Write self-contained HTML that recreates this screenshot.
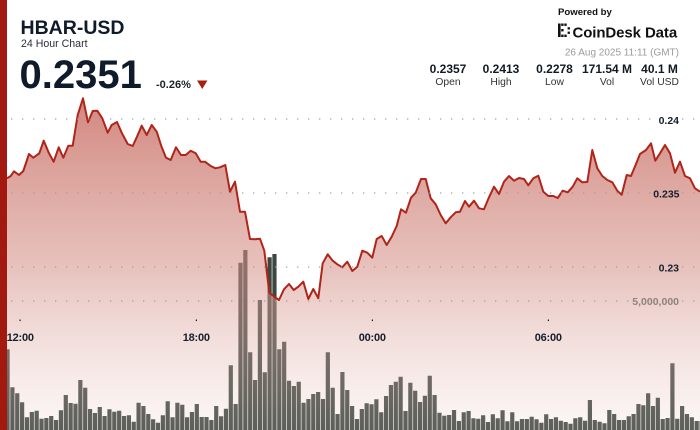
<!DOCTYPE html>
<html><head><meta charset="utf-8"><style>
html,body{margin:0;padding:0;background:#fff;}
body{width:700px;height:430px;overflow:hidden;position:relative;font-family:"Liberation Sans",sans-serif;}
svg{position:absolute;left:0;top:0;}
</style></head><body>
<svg width="700" height="430" viewBox="0 0 700 430" xmlns="http://www.w3.org/2000/svg">
<defs>
<linearGradient id="g" gradientUnits="userSpaceOnUse" x1="0" y1="98" x2="0" y2="430">
<stop offset="0" stop-color="rgb(198,105,95)" stop-opacity="0.8"/>
<stop offset="0.52" stop-color="rgb(213,145,136)" stop-opacity="0.55"/>
<stop offset="1" stop-color="rgb(235,205,200)" stop-opacity="0.18"/>
</linearGradient>
</defs>
<path fill="#3d4741" d="M5.45 349.3h4.2V430h-4.2z M10.30 387.3h4.2V430h-4.2z M15.16 393.3h4.2V430h-4.2z M20.01 402.3h4.2V430h-4.2z M24.86 417.3h4.2V430h-4.2z M29.72 412h4.2V430h-4.2z M34.57 410.7h4.2V430h-4.2z M39.42 418.7h4.2V430h-4.2z M44.27 418h4.2V430h-4.2z M49.13 416h4.2V430h-4.2z M53.98 420h4.2V430h-4.2z M58.83 410.3h4.2V430h-4.2z M63.69 395h4.2V430h-4.2z M68.54 403h4.2V430h-4.2z M73.39 403.7h4.2V430h-4.2z M78.25 380h4.2V430h-4.2z M83.10 387.7h4.2V430h-4.2z M87.95 409h4.2V430h-4.2z M92.80 413h4.2V430h-4.2z M97.66 407h4.2V430h-4.2z M102.51 416h4.2V430h-4.2z M107.36 409.3h4.2V430h-4.2z M112.22 411.7h4.2V430h-4.2z M117.07 410.7h4.2V430h-4.2z M121.92 416h4.2V430h-4.2z M126.78 415.3h4.2V430h-4.2z M131.63 421.7h4.2V430h-4.2z M136.48 402.7h4.2V430h-4.2z M141.33 406h4.2V430h-4.2z M146.19 414h4.2V430h-4.2z M151.04 419.3h4.2V430h-4.2z M155.89 422.7h4.2V430h-4.2z M160.75 415.3h4.2V430h-4.2z M165.60 401.3h4.2V430h-4.2z M170.45 417.3h4.2V430h-4.2z M175.31 402.7h4.2V430h-4.2z M180.16 404.7h4.2V430h-4.2z M185.01 417.3h4.2V430h-4.2z M189.86 412h4.2V430h-4.2z M194.72 404h4.2V430h-4.2z M199.57 417h4.2V430h-4.2z M204.42 417h4.2V430h-4.2z M209.28 420h4.2V430h-4.2z M214.13 406h4.2V430h-4.2z M218.98 416.3h4.2V430h-4.2z M223.84 408.7h4.2V430h-4.2z M228.69 365.3h4.2V430h-4.2z M233.54 404h4.2V430h-4.2z M238.39 262.7h4.2V430h-4.2z M243.25 250h4.2V430h-4.2z M248.10 352.3h4.2V430h-4.2z M252.95 380h4.2V430h-4.2z M257.81 300h4.2V430h-4.2z M262.66 372.3h4.2V430h-4.2z M267.51 257.3h4.2V430h-4.2z M272.37 254h4.2V430h-4.2z M277.22 349.3h4.2V430h-4.2z M282.07 341.7h4.2V430h-4.2z M286.92 380.7h4.2V430h-4.2z M291.78 386h4.2V430h-4.2z M296.63 381.7h4.2V430h-4.2z M301.48 402.7h4.2V430h-4.2z M306.34 399h4.2V430h-4.2z M311.19 394h4.2V430h-4.2z M316.04 392h4.2V430h-4.2z M320.90 399h4.2V430h-4.2z M325.75 352.3h4.2V430h-4.2z M330.60 387.7h4.2V430h-4.2z M335.45 414h4.2V430h-4.2z M340.31 372h4.2V430h-4.2z M345.16 390h4.2V430h-4.2z M350.01 406h4.2V430h-4.2z M354.87 419h4.2V430h-4.2z M359.72 409h4.2V430h-4.2z M364.57 403.3h4.2V430h-4.2z M369.43 404.3h4.2V430h-4.2z M374.28 399.3h4.2V430h-4.2z M379.13 412.3h4.2V430h-4.2z M383.98 396h4.2V430h-4.2z M388.84 385h4.2V430h-4.2z M393.69 381.7h4.2V430h-4.2z M398.54 376.7h4.2V430h-4.2z M403.40 411h4.2V430h-4.2z M408.25 382.7h4.2V430h-4.2z M413.10 390.7h4.2V430h-4.2z M417.96 402h4.2V430h-4.2z M422.81 395.7h4.2V430h-4.2z M427.66 375.7h4.2V430h-4.2z M432.51 395h4.2V430h-4.2z M437.37 412.7h4.2V430h-4.2z M442.22 415.7h4.2V430h-4.2z M447.07 415h4.2V430h-4.2z M451.93 410h4.2V430h-4.2z M456.78 421h4.2V430h-4.2z M461.63 412.3h4.2V430h-4.2z M466.49 411h4.2V430h-4.2z M471.34 418.3h4.2V430h-4.2z M476.19 418.7h4.2V430h-4.2z M481.04 415.3h4.2V430h-4.2z M485.90 422h4.2V430h-4.2z M490.75 414.3h4.2V430h-4.2z M495.60 418.3h4.2V430h-4.2z M500.46 410.3h4.2V430h-4.2z M505.31 421.3h4.2V430h-4.2z M510.16 412.3h4.2V430h-4.2z M515.02 421.3h4.2V430h-4.2z M519.87 419h4.2V430h-4.2z M524.72 419h4.2V430h-4.2z M529.57 416.7h4.2V430h-4.2z M534.43 419.3h4.2V430h-4.2z M539.28 422.7h4.2V430h-4.2z M544.13 414.3h4.2V430h-4.2z M548.99 419h4.2V430h-4.2z M553.84 417.3h4.2V430h-4.2z M558.69 420.7h4.2V430h-4.2z M563.55 422h4.2V430h-4.2z M568.40 423.7h4.2V430h-4.2z M573.25 418.3h4.2V430h-4.2z M578.10 417.3h4.2V430h-4.2z M582.96 420.7h4.2V430h-4.2z M587.81 400h4.2V430h-4.2z M592.66 420h4.2V430h-4.2z M597.52 421.7h4.2V430h-4.2z M602.37 423.3h4.2V430h-4.2z M607.22 410h4.2V430h-4.2z M612.08 414h4.2V430h-4.2z M616.93 420h4.2V430h-4.2z M621.78 420h4.2V430h-4.2z M626.63 416.3h4.2V430h-4.2z M631.49 414h4.2V430h-4.2z M636.34 404h4.2V430h-4.2z M641.19 405.3h4.2V430h-4.2z M646.05 393.3h4.2V430h-4.2z M650.90 406h4.2V430h-4.2z M655.75 397.7h4.2V430h-4.2z M660.61 419h4.2V430h-4.2z M665.46 418h4.2V430h-4.2z M670.31 363.3h4.2V430h-4.2z M675.16 418.7h4.2V430h-4.2z M680.02 406h4.2V430h-4.2z M684.87 414h4.2V430h-4.2z M689.72 417.3h4.2V430h-4.2z M694.58 421h4.2V430h-4.2z M699.43 421h4.2V430h-4.2z"/>
<path fill="url(#g)" d="M7,430 L7,178.3 10.7,176 14,171.3 19,175 23.3,171 29,154 33.3,157.7 39.3,153.3 43.7,140.7 49,153.3 53.7,161.7 58.7,147.3 63.3,157.7 68.3,145.7 72.7,145.7 77.7,115 83,98.3 88,122.3 92.7,111 97.3,110.7 102.3,118.3 107.7,132.7 111.7,125 117,122 122,133.3 127.7,144 132.7,146 137,136.7 141.7,125.7 146.7,135 151.7,125 156.7,131.7 161.3,146 166,157.7 170.7,160 176,147.3 181,155 185.7,155 190.7,150.7 195.7,153.3 200.7,161.7 205,161.7 210.3,165.7 215.3,168.3 220,167.3 225.3,165 230,191.7 235,181.7 240,211.7 245,211.7 250,239 255,239.3 260,238.7 264.3,250.7 269.3,292.7 274.3,296.7 279,300 284,289.3 289,284 293.7,290 298.3,286.7 303.3,281.7 308.3,299 313.3,289 318.3,298.3 322.7,263.3 327.7,254.3 332.7,260.7 337.3,264.3 342.3,267.3 347.3,261.7 352.3,271 357.3,266.7 362.3,250.7 367.3,252.7 372.3,257.7 376.7,239 381.7,236 386.7,245 391.7,236.7 396.7,226 401,209.3 406,212.7 411,197.7 415.7,192.7 421,179 425.7,179 430.7,198.3 435.7,204.3 440.7,215 445.7,223.3 450.7,217.3 455.7,212.3 460,211.7 465,201 469,206.7 474,200.7 479,208.3 484,209.3 489,197.3 494,186.7 499,194 504,181.7 509,176 514,180.7 519,178 524,179 528.3,185.3 533.3,178.3 538.3,175.7 543.3,191.7 548.3,196 553.3,196 557.7,198 562.7,190.7 567.7,192.3 572.7,186.7 577.3,178.3 582.3,182.3 587.3,182 592.3,150 597.3,168.3 602.3,176 607.3,180 612.3,182.3 617.3,190.7 621.7,194.7 626.7,175 631,176 636,164 640,154 646,150 651,143.3 655.3,160.7 660,153.3 665,145 670,153.3 675,172.7 680,161.7 685,176 690,178.3 695,188.3 700,191.7 L700,430 Z"/>
<polyline fill="none" stroke="#b0251a" stroke-width="2" stroke-linejoin="round" points="7,178.3 10.7,176 14,171.3 19,175 23.3,171 29,154 33.3,157.7 39.3,153.3 43.7,140.7 49,153.3 53.7,161.7 58.7,147.3 63.3,157.7 68.3,145.7 72.7,145.7 77.7,115 83,98.3 88,122.3 92.7,111 97.3,110.7 102.3,118.3 107.7,132.7 111.7,125 117,122 122,133.3 127.7,144 132.7,146 137,136.7 141.7,125.7 146.7,135 151.7,125 156.7,131.7 161.3,146 166,157.7 170.7,160 176,147.3 181,155 185.7,155 190.7,150.7 195.7,153.3 200.7,161.7 205,161.7 210.3,165.7 215.3,168.3 220,167.3 225.3,165 230,191.7 235,181.7 240,211.7 245,211.7 250,239 255,239.3 260,238.7 264.3,250.7 269.3,292.7 274.3,296.7 279,300 284,289.3 289,284 293.7,290 298.3,286.7 303.3,281.7 308.3,299 313.3,289 318.3,298.3 322.7,263.3 327.7,254.3 332.7,260.7 337.3,264.3 342.3,267.3 347.3,261.7 352.3,271 357.3,266.7 362.3,250.7 367.3,252.7 372.3,257.7 376.7,239 381.7,236 386.7,245 391.7,236.7 396.7,226 401,209.3 406,212.7 411,197.7 415.7,192.7 421,179 425.7,179 430.7,198.3 435.7,204.3 440.7,215 445.7,223.3 450.7,217.3 455.7,212.3 460,211.7 465,201 469,206.7 474,200.7 479,208.3 484,209.3 489,197.3 494,186.7 499,194 504,181.7 509,176 514,180.7 519,178 524,179 528.3,185.3 533.3,178.3 538.3,175.7 543.3,191.7 548.3,196 553.3,196 557.7,198 562.7,190.7 567.7,192.3 572.7,186.7 577.3,178.3 582.3,182.3 587.3,182 592.3,150 597.3,168.3 602.3,176 607.3,180 612.3,182.3 617.3,190.7 621.7,194.7 626.7,175 631,176 636,164 640,154 646,150 651,143.3 655.3,160.7 660,153.3 665,145 670,153.3 675,172.7 680,161.7 685,176 690,178.3 695,188.3 700,191.7"/>
<g stroke="#9a9a9a" stroke-width="1.3" stroke-dasharray="1.2 9.8">
<line x1="11.1" y1="119" x2="651" y2="119"/>
<line x1="682.1" y1="119" x2="695" y2="119"/>
<line x1="11.1" y1="193" x2="651" y2="193"/>
<line x1="682.1" y1="193" x2="695" y2="193"/>
<line x1="11.1" y1="267" x2="651" y2="267"/>
<line x1="682.1" y1="267" x2="695" y2="267"/>
<line x1="11.1" y1="301" x2="629" y2="301"/>
<line x1="682.1" y1="301" x2="695" y2="301"/>
</g>
<g font-family="'Liberation Sans',sans-serif" font-weight="700" font-size="10.5" fill="#13202e" text-anchor="end">
<text x="679" y="124">0.24</text>
<text x="679.5" y="197.7">0.235</text>
<text x="679" y="271.3">0.23</text>
<text x="679" y="304.8" fill="#8d8280">5,000,000</text>
</g>
<g fill="#1a2230">
<rect x="19.5" y="319.5" width="1.2" height="1.6"/>
<rect x="195.8" y="319.5" width="1.2" height="1.6"/>
<rect x="371.8" y="319.5" width="1.2" height="1.6"/>
<rect x="547.8" y="319.5" width="1.2" height="1.6"/>
</g>
<g font-family="'Liberation Sans',sans-serif" font-weight="700" font-size="11" fill="#16202c" text-anchor="middle" letter-spacing="-0.2">
<text x="20.3" y="341">12:00</text>
<text x="196.3" y="341">18:00</text>
<text x="372.3" y="341">00:00</text>
<text x="548.3" y="341">06:00</text>
</g>
<rect x="0" y="0" width="7" height="430" fill="#a21a0f"/>
<g font-family="'Liberation Sans',sans-serif" fill="#0f1b2a">
<text x="20.5" y="34" font-size="19.5" font-weight="700">HBAR-USD</text>
<text x="21" y="47" font-size="10.6" fill="#2a2f36">24 Hour Chart</text>
<text x="19.5" y="88" font-size="40" font-weight="700">0.2351</text>
<text x="156" y="88" font-size="11" font-weight="700" fill="#1d2228">-0.26%</text>
</g>
<polygon points="197,80.5 207.5,80.5 202.25,89" fill="#a51f15"/>
<g font-family="'Liberation Sans',sans-serif" fill="#111">
<text x="558" y="14.8" font-size="9.6" font-weight="700">Powered by</text>
<text x="572.5" y="37.3" font-size="15" font-weight="700" letter-spacing="-0.1">CoinDesk Data</text>
<text x="679" y="55.5" font-size="10" fill="#9b9b9b" text-anchor="end">26 Aug 2025 11:11 (GMT)</text>
</g>
<g fill="#111">
<rect x="558" y="23.5" width="2.6" height="13.5"/>
<rect x="561.2" y="23.5" width="2.4" height="2.4"/>
<rect x="564.3" y="23.5" width="2.4" height="2.4"/>
<rect x="561.2" y="34.6" width="2.4" height="2.4"/>
<rect x="564.3" y="34.6" width="2.4" height="2.4"/>
<rect x="561.2" y="29" width="2.4" height="2.4"/>
<rect x="567.6" y="27.2" width="2.3" height="2.3"/>
<rect x="567.6" y="31.6" width="2.3" height="2.3"/>
</g>
<g font-family="'Liberation Sans',sans-serif" text-anchor="middle">
<g font-size="12" font-weight="700" fill="#111a24">
<text x="448" y="73">0.2357</text>
<text x="501" y="73">0.2413</text>
<text x="554.5" y="73">0.2278</text>
<text x="607" y="73">171.54 M</text>
<text x="659.5" y="73">40.1 M</text>
</g>
<g font-size="10.3" fill="#333">
<text x="448" y="85">Open</text>
<text x="501" y="85">High</text>
<text x="554.5" y="85">Low</text>
<text x="607" y="85">Vol</text>
<text x="659.5" y="85">Vol USD</text>
</g>
</g>
</svg>
</body></html>
